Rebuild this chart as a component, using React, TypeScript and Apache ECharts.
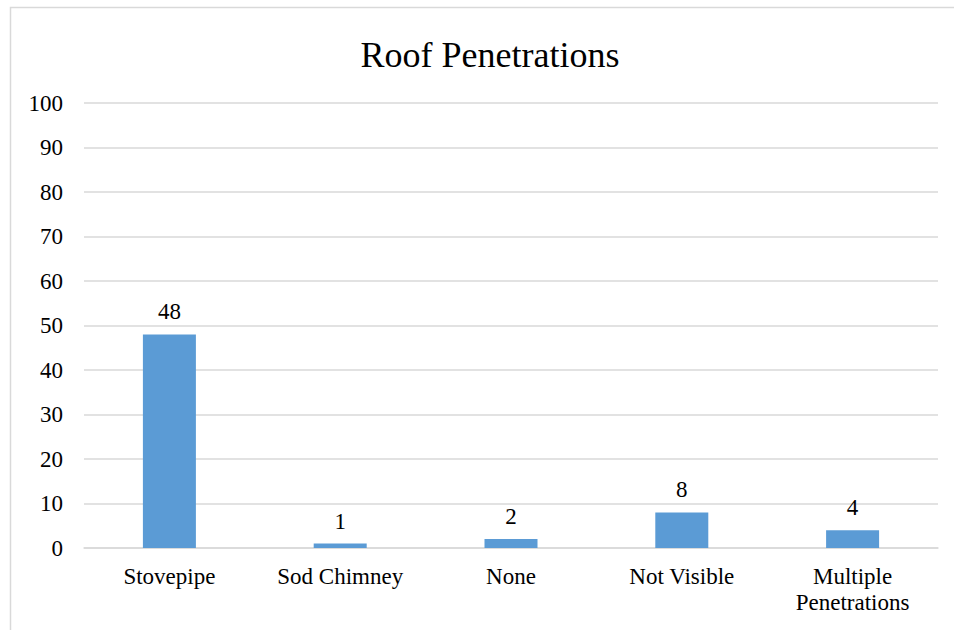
import React, { useEffect, useRef } from "react";
import * as echarts from "echarts";

const categories = ["Stovepipe", "Sod Chimney", "None", "Not Visible", "Multiple\nPenetrations"];
const counts = [48, 1, 2, 8, 4];
const yMin = 0;
const yMax = 100;
const yStep = 10;

const FONT = "'Liberation Serif', 'Times New Roman', serif";

export default function App() {
  const ref = useRef<HTMLDivElement>(null);

  useEffect(() => {
    if (!ref.current) return;
    const chart = echarts.init(ref.current, undefined, { renderer: "svg" });
    chart.setOption({
      animation: false,
      backgroundColor: "#ffffff",
      title: {
        text: "Roof Penetrations",
        left: 485,
        top: 32,
        textAlign: "center",
        textStyle: { fontFamily: FONT, fontSize: 36, fontWeight: "normal", color: "#000000" },
      },
      graphic: [
        {
          type: "polyline",
          shape: { points: [[10.5, 640], [10.5, 7.5], [960, 7.5]] },
          style: { stroke: "#d9d9d9", lineWidth: 1.5, fill: "none" },
          silent: true,
        },
      ],
      grid: { left: 84, right: 16, top: 103, bottom: 82 },
      xAxis: {
        type: "category",
        data: categories,
        axisLine: { show: true, lineStyle: { color: "#d9d9d9", width: 1.5 } },
        axisTick: { show: false },
        axisLabel: {
          interval: 0,
          margin: 15,
          fontFamily: FONT,
          fontSize: 23,
          lineHeight: 26,
          color: "#000000",
        },
      },
      yAxis: {
        type: "value",
        min: yMin,
        max: yMax,
        interval: yStep,
        axisLine: { show: false },
        axisTick: { show: false },
        splitLine: { lineStyle: { color: "#d9d9d9", width: 1.5 } },
        axisLabel: { margin: 21, fontFamily: FONT, fontSize: 23, color: "#000000" },
      },
      series: [
        {
          type: "bar",
          data: counts,
          barWidth: 53,
          itemStyle: { color: "#5b9bd5" },
          label: {
            show: true,
            position: "top",
            distance: 11,
            fontFamily: FONT,
            fontSize: 23,
            color: "#000000",
          },
        },
      ],
    });
    return () => chart.dispose();
  }, []);

  return <div ref={ref} style={{ width: 954, height: 630, position: "absolute", left: 0, top: 0 }} />;
}
